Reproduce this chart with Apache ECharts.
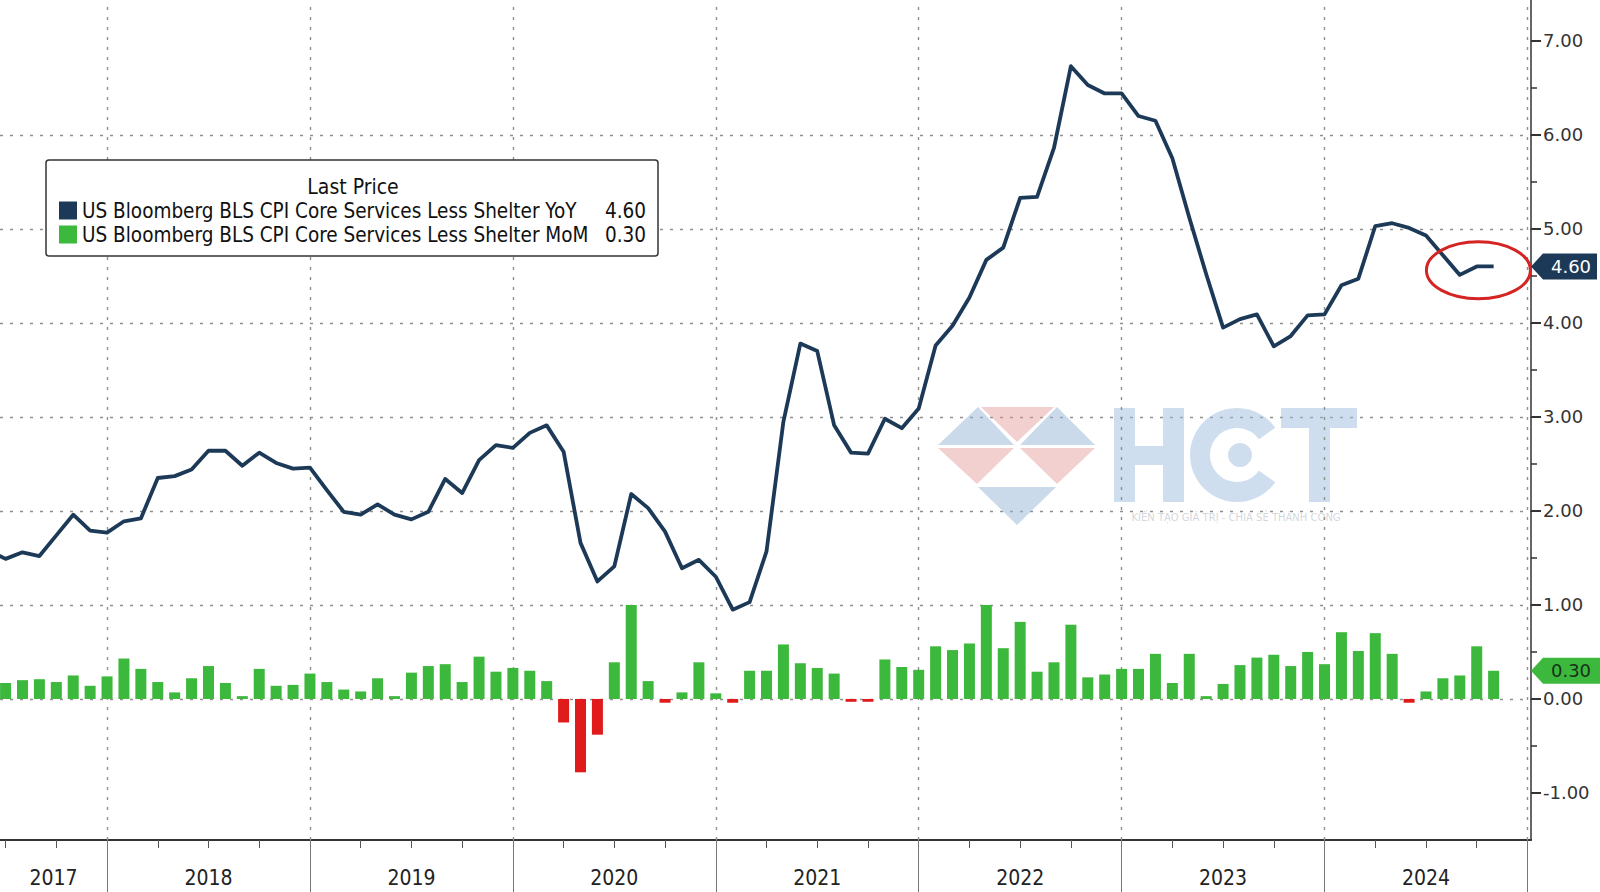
<!DOCTYPE html>
<html>
<head>
<meta charset="utf-8">
<script src="https://cdn.jsdelivr.net/npm/echarts@6/dist/echarts.min.js"></script>
<style>
html,body{margin:0;padding:0;background:#fff;}
#c{width:1600px;height:892px;}
</style>
</head>
<body>
<div id="c"></div>
<script>
// ---- DATA (month index: 0 = Jan 2017) ----
const yoyStart = 5;   // Jun 2017
const yoy = [
  1.58,1.49,1.56,1.52,1.74,1.96,1.79,
  1.77,1.89,1.92,2.35,2.37,2.44,2.64,2.64,2.48,2.62,2.51,2.45,
  2.46,2.22,1.99,1.96,2.07,1.96,1.91,1.99,2.34,2.19,2.54,2.70,
  2.67,2.83,2.91,2.63,1.66,1.25,1.41,2.18,2.03,1.78,1.39,1.48,
  1.30,0.95,1.03,1.57,2.95,3.78,3.70,2.91,2.62,2.61,2.98,2.88,
  3.09,3.76,3.97,4.27,4.67,4.80,5.33,5.34,5.86,6.73,6.53,6.44,
  6.44,6.20,6.15,5.75,5.12,4.52,3.95,4.04,4.09,3.75,3.86,4.08,
  4.09,4.40,4.47,5.03,5.06,5.01,4.93,4.72,4.51,4.60,4.60
];
const momStart = 6;   // Jul 2017
const mom = [
  0.17,0.20,0.21,0.18,0.25,0.14,
  0.24,0.43,0.32,0.18,0.07,0.22,0.35,0.17,0.03,0.32,0.14,0.15,
  0.27,0.18,0.10,0.08,0.22,0.03,0.28,0.35,0.37,0.18,0.45,0.29,
  0.33,0.30,0.19,-0.25,-0.78,-0.38,0.39,1.00,0.19,-0.04,0.07,0.39,
  0.06,-0.04,0.30,0.30,0.58,0.38,0.33,0.27,-0.03,-0.03,0.42,0.34,
  0.31,0.56,0.52,0.59,1.00,0.54,0.82,0.29,0.39,0.79,0.23,0.26,
  0.32,0.32,0.48,0.17,0.48,0.03,0.16,0.36,0.44,0.47,0.35,0.50,
  0.37,0.71,0.51,0.70,0.48,-0.04,0.08,0.22,0.25,0.56,0.30
];
const yearLabels = ['2017','2018','2019','2020','2021','2022','2023','2024'];
const yTickValues = [-1,0,1,2,3,4,5,6,7];
const seriesNames = [
  'US Bloomberg BLS CPI Core Services Less Shelter YoY',
  'US Bloomberg BLS CPI Core Services Less Shelter MoM'
];
const legendTitle = 'Last Price';

// ---- axis extents ----
const xMin = 5.67, xMax = 96.21;
const yMin = -1.5, yMax = 7.434;

const yearBounds = yearLabels.map((y, k) => 12 * (k + 1));
const quarterTicks = [];
for (let m = 6; m <= 96; m += 3) quarterTicks.push(m);
const yearCenters = yearLabels.map((y, k) => {
  const a = Math.max(xMin, 12 * k), b = Math.min(xMax, 12 * k + 12);
  return (a + b) / 2;
});

const NARROW = "'Liberation Sans Narrow','DejaVu Sans Condensed','Arial Narrow',sans-serif";
const NAVY = '#1c3a57';
const GREEN = '#3cb83c';
const RED = '#e01b1b';

const lastYoY = yoy[yoy.length - 1];
const lastMoM = mom[mom.length - 1];
const lastVals = {};
lastVals[seriesNames[0]] = lastYoY.toFixed(2);
lastVals[seriesNames[1]] = lastMoM.toFixed(2);

const chart = echarts.init(document.getElementById('c'), null, { renderer: 'svg' });

const gridDot = { type: [3, 7], color: '#8f8f8f', width: 1.4 };

const option = {
  animation: false,
  backgroundColor: '#ffffff',
  grid: { left: 0, right: 69, top: 0, bottom: 52, containLabel: false },
  xAxis: [{
    type: 'value', min: xMin, max: xMax, position: 'bottom',
    axisLine: { show: true, onZero: false, lineStyle: { color: '#333', width: 2 } },
    axisTick: { show: true, customValues: quarterTicks, length: 8, lineStyle: { color: '#555', width: 1 } },
    axisLabel: {
      customValues: yearCenters, margin: 27,
      formatter: v => yearLabels[Math.floor(v / 12)],
      fontFamily: NARROW, fontSize: 21, color: '#222'
    },
    splitLine: { show: false }
  }, {
    type: 'value', min: xMin, max: xMax, position: 'bottom', offset: 0,
    axisLine: { show: false, onZero: false },
    axisTick: { show: true, customValues: yearBounds, length: 52, lineStyle: { color: '#777', width: 1 } },
    axisLabel: { show: false },
    splitLine: { show: false }
  }],
  yAxis: {
    type: 'value', position: 'right', min: yMin, max: yMax, minInterval: 1, maxInterval: 1,
    axisLine: { show: true, lineStyle: { color: '#333', width: 1.5 } },
    axisTick: { show: true, customValues: yTickValues, length: 10, lineStyle: { color: '#333', width: 2 } },
    minorTick: { show: true, splitNumber: 2, length: 6, lineStyle: { color: '#333', width: 1.5 } },
    axisLabel: {
      customValues: yTickValues, margin: 12, fontFamily: 'DejaVu Sans', fontSize: 18, color: '#333',
      formatter: v => Number(v).toFixed(2)
    },
    splitLine: { show: true, showMinLine: false, showMaxLine: false, lineStyle: gridDot }
  },
  legend: {
    left: 46, top: 160, orient: 'vertical', icon: 'rect',
    itemWidth: 18, itemHeight: 18, itemGap: 3,
    padding: [40, 12, 11, 13],
    borderColor: '#333', borderWidth: 1.5, borderRadius: 3, backgroundColor: '#fff',
    data: seriesNames,
    formatter: name => '{n|' + name + '}{v|' + lastVals[name] + '}',
    textStyle: {
      rich: {
        n: { width: 516, fontFamily: NARROW, fontSize: 20.5, color: '#111', lineHeight: 22 },
        v: { width: 48, align: 'right', fontFamily: NARROW, fontSize: 20.5, color: '#111', lineHeight: 22 }
      }
    }
  },
  series: [{
    type: 'bar', name: seriesNames[1], xAxisIndex: 0,
    barWidth: 11,
    itemStyle: { color: GREEN },
    data: mom.map((v, k) => v < 0
      ? { value: [momStart + k, v], itemStyle: { color: RED } }
      : { value: [momStart + k, v] }),
    z: 2,
    markLine: {
      silent: true, symbol: 'none', label: { show: false },
      lineStyle: gridDot,
      data: yearBounds.map(v => ({ xAxis: v })),
      z: 1
    }
  }, {
    type: 'line', name: seriesNames[0], xAxisIndex: 0,
    data: yoy.map((v, k) => [yoyStart + k, v]),
    symbol: 'none', showSymbol: false,
    lineStyle: { color: NAVY, width: 3.8, join: 'round' },
    itemStyle: { color: NAVY },
    z: 3
  }]
};
chart.setOption(option);

// ---- annotations drawn through the axes' scales ----
const xR = chart.convertToPixel({ xAxisIndex: 0 }, xMax);
const yYoY = chart.convertToPixel({ yAxisIndex: 0 }, lastYoY);
const yMoM = chart.convertToPixel({ yAxisIndex: 0 }, lastMoM);
const ellC = chart.convertToPixel({ seriesIndex: 1 }, [93.1, 4.56]);

function tag(y, fill, textColor, txt, right) {
  return [{
    type: 'polygon', z: 50,
    shape: { points: [[xR, y], [xR + 12, y - 13], [right, y - 13], [right, y + 13], [xR + 12, y + 13]] },
    style: { fill: fill }
  }, {
    type: 'text', z: 51, x: xR + 40, y: y,
    style: { text: txt, fill: textColor, font: '18px "DejaVu Sans"', textAlign: 'center', textVerticalAlign: 'middle' }
  }];
}

const wmBlue = 'rgba(150,182,214,0.50)';
const wmPink = 'rgba(226,150,150,0.45)';
const wmText = 'rgba(160,190,222,0.50)';

const watermark = [
  { type: 'polygon', shape: { points: [[938,445],[978,407],[1014,445]] }, style: { fill: wmBlue } },
  { type: 'polygon', shape: { points: [[981,407],[1054,407],[1017,442]] }, style: { fill: wmPink } },
  { type: 'polygon', shape: { points: [[1020,445],[1057,407],[1095,445]] }, style: { fill: wmBlue } },
  { type: 'polygon', shape: { points: [[938,448],[1014,448],[977,484]] }, style: { fill: wmPink } },
  { type: 'polygon', shape: { points: [[1020,448],[1095,448],[1057,484]] }, style: { fill: wmPink } },
  { type: 'polygon', shape: { points: [[978,487],[1056,487],[1017,525]] }, style: { fill: wmBlue } },
  // H
  { type: 'rect', shape: { x: 1114, y: 408, width: 21, height: 94 }, style: { fill: wmText } },
  { type: 'rect', shape: { x: 1163, y: 408, width: 21, height: 94 }, style: { fill: wmText } },
  { type: 'rect', shape: { x: 1135, y: 446, width: 28, height: 19 }, style: { fill: wmText } },
  // C
  { type: 'ring', shape: { cx: 1237, cy: 455, r: 47, r0: 27 }, style: { fill: wmText } },
  { type: 'sector', shape: { cx: 1237, cy: 455, r: 49, r0: 0, startAngle: -0.62, endAngle: 0.62 }, style: { fill: '#fff' } },
  { type: 'circle', shape: { cx: 1240, cy: 455, r: 12 }, style: { fill: wmText } },
  // T
  { type: 'rect', shape: { x: 1281, y: 408, width: 76, height: 20 }, style: { fill: wmText } },
  { type: 'rect', shape: { x: 1309, y: 428, width: 21, height: 74 }, style: { fill: wmText } },
  { type: 'text', x: 1236, y: 517, style: { text: 'KIẾN TẠO GIÁ TRỊ - CHIA SẺ THÀNH CÔNG', fill: 'rgba(175,180,190,0.55)', font: '10px "DejaVu Sans"', textAlign: 'center', textVerticalAlign: 'middle' } }
];

chart.setOption({
  graphic: [
    { type: 'group', z: 0, silent: true, children: watermark },
    { type: 'text', z: 60, x: 353, y: 187,
      style: { text: legendTitle, fill: '#111', font: '21px ' + NARROW, textAlign: 'center', textVerticalAlign: 'middle' } },
    { type: 'ellipse', z: 40, shape: { cx: ellC[0], cy: ellC[1], rx: 52, ry: 28.5 },
      style: { fill: 'none', stroke: '#d42424', lineWidth: 3 } },
    ...tag(yYoY, NAVY, '#ffffff', lastYoY.toFixed(2), 1597),
    ...tag(yMoM, GREEN, '#16321a', lastMoM.toFixed(2), 1600)
  ]
});
</script>
</body>
</html>
